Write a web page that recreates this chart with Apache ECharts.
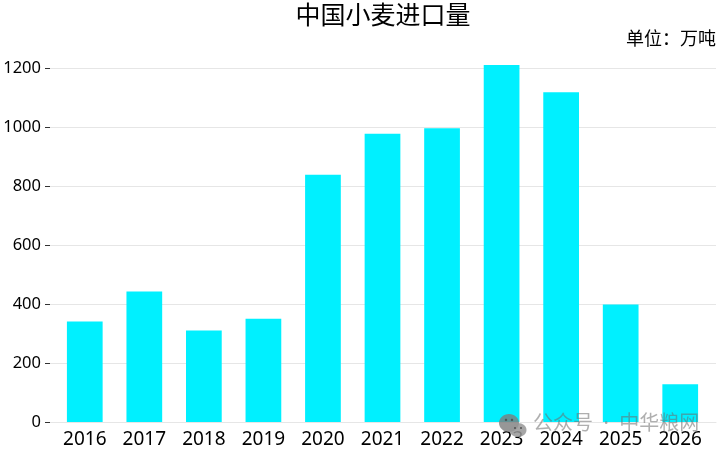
<!DOCTYPE html>
<html><head><meta charset="utf-8"><style>html,body{margin:0;padding:0;background:#fff}#c{width:720px;height:455px}</style>
<script src="https://cdn.jsdelivr.net/npm/echarts@6/dist/echarts.min.js"></script></head>
<body><div id="c"></div><script>
const categories=['2016','2017','2018','2019','2020','2021','2022','2023','2024','2025','2026'];
const imports=[341,442,310,350,838,977,996,1210,1118,398,128];
const chart=echarts.init(document.getElementById('c'),null,{renderer:'canvas'});
const cjk='"Noto Sans CJK SC","Noto Sans",sans-serif';
const latin='"Noto Sans",sans-serif';
const bubble=(x,y,rx,ry,fill,z)=>({type:'ellipse',silent:true,z:z,shape:{cx:x,cy:y,rx:rx,ry:ry},style:{fill:fill}});
chart.setOption({
animation:false,
title:[{text:'中国小麦进口量',left:383,top:2,padding:0,textAlign:'center',textStyle:{fontFamily:cjk,fontSize:25,fontWeight:'normal',color:'#000'}},
{text:'单位：万吨',right:4,top:29,padding:0,textStyle:{fontFamily:cjk,fontSize:18,fontWeight:'normal',color:'#000'}}],
grid:[{left:55,right:10,top:68,bottom:33},{left:50,right:4,top:68,bottom:33}],
xAxis:[{type:'category',gridIndex:0,data:categories,axisTick:{show:false},axisLine:{show:false},axisLabel:{fontFamily:latin,fontSize:19,color:'#000',margin:8}},
{type:'category',gridIndex:1,data:categories,axisTick:{show:false},axisLabel:{show:false},axisLine:{show:true,lineStyle:{color:'#e6e6e6'}}}],
yAxis:[{type:'value',gridIndex:0,min:0,max:1200,interval:200,show:false},
{type:'value',gridIndex:1,min:0,max:1200,interval:200,axisLine:{show:false},axisTick:{show:true,length:5,lineStyle:{color:'#333'}},splitLine:{lineStyle:{color:'#e6e6e6'}},axisLabel:{fontFamily:latin,fontSize:16.5,color:'#000',margin:9,formatter:v=>String(v)}}],
series:[{type:'bar',xAxisIndex:0,yAxisIndex:0,data:imports,barWidth:'60%',itemStyle:{color:'#00f0ff'},clip:false,z:3}],
graphic:[bubble(509,423,10,9,'rgba(125,125,125,0.8)',20),bubble(518,430,8.5,7,'rgba(150,150,150,0.85)',21),
bubble(506,420,1.2,1.2,'rgba(70,70,70,0.8)',22),bubble(512,420,1.2,1.2,'rgba(70,70,70,0.8)',22),
bubble(515,428,1,1,'rgba(70,70,70,0.8)',22),bubble(521,428,1,1,'rgba(70,70,70,0.8)',22),
{type:'text',left:533,top:414,silent:true,z:20,style:{text:'公众号  ·  中华粮网',fontFamily:latin+',"Noto Sans CJK SC"',fontSize:20,fill:'rgba(110,110,110,0.55)'}}]
});
</script></body></html>
